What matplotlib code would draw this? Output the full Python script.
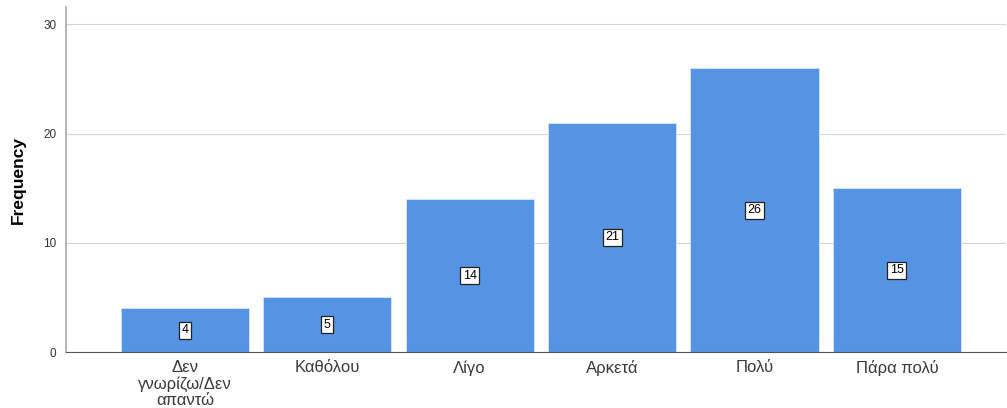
import matplotlib.pyplot as plt

plt.rcParams['font.family'] = ['Liberation Sans', 'DejaVu Sans']

categories = ['Δεν\nγνωρίζω/Δεν\nαπαντώ', 'Καθόλου', 'Λίγο', 'Αρκετά', 'Πολύ', 'Πάρα πολύ']
counts = [4, 5, 14, 21, 26, 15]
yticks = [0, 10, 20, 30]

fig = plt.figure(figsize=(10.07, 4.08), dpi=100)
ax = fig.add_axes([0.0655, 0.137, 0.934, 0.846])

x = list(range(len(categories)))
ax.bar(x, counts, width=0.9, color='#5594e2', edgecolor='#d8e6f8', linewidth=0.6, zorder=2)

# value labels in small boxes at the middle of each bar
for xi, c in zip(x, counts):
    ax.text(xi, c / 2, str(c), ha='center', va='center', fontsize=9, color='black', zorder=3,
            bbox=dict(boxstyle='square,pad=0.2', facecolor='white', edgecolor='#222222', linewidth=0.9))

ax.set_xlim(-0.835, 5.77)
ax.set_ylim(0, 31.6)
ax.set_yticks(yticks)
ax.set_xticks(x)
ax.set_xticklabels(categories, fontsize=12, color='#3a3a3a', linespacing=1.07)
ax.tick_params(axis='y', labelsize=8.5, colors='#333333', length=0, pad=7)
ax.tick_params(axis='x', length=0, pad=6)

ax.grid(axis='y', color='#d4d4d4', linewidth=0.8, zorder=0)
ax.set_axisbelow(True)

ax.spines['top'].set_visible(False)
ax.spines['right'].set_visible(False)
ax.spines['left'].set_color('#aaaaaa')
ax.spines['left'].set_linewidth(1.2)
ax.spines['bottom'].set_color('#555555')
ax.spines['bottom'].set_linewidth(0.8)

ax.set_ylabel('Frequency', fontsize=12.5, fontweight='bold', labelpad=12)

fig.savefig('out.png', dpi=100)
